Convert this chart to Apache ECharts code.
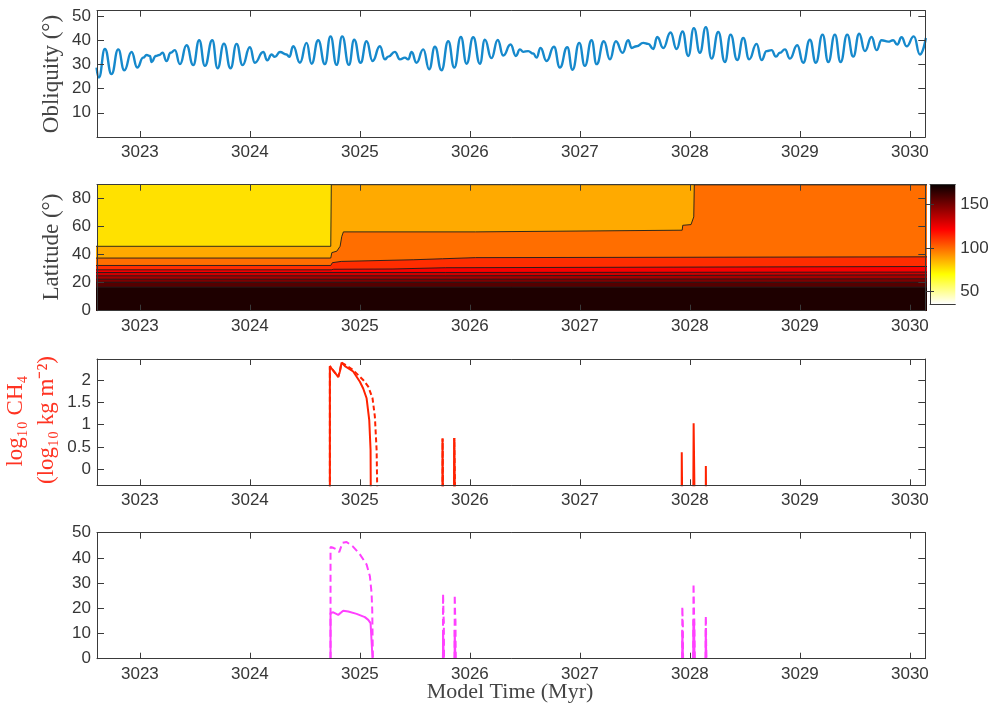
<!DOCTYPE html>
<html><head><meta charset="utf-8">
<script src="https://cdn.jsdelivr.net/npm/echarts@6/dist/echarts.min.js"></script>
<style>html,body{margin:0;padding:0;background:#fff}#c{width:991px;height:710px}</style>
</head><body><div id="c"></div>
<script>
// ---------------- DATA ----------------
const timeTicks = [3023, 3024, 3025, 3026, 3027, 3028, 3029, 3030];
const obliquityTicks = [10, 20, 30, 40, 50];
const latitudeTicks = [0, 20, 40, 60, 80];
const ch4Ticks = [0, 0.5, 1, 1.5, 2];
const iceTicks = [0, 10, 20, 30, 40, 50];
const colorbarTicks = [50, 100, 150];

// obliquity (deg) vs model time (Myr), read at the turning points
const obliquity = [
[3022.606,28.7],[3022.627,24.6],[3022.682,36.4],[3022.742,26.0],[3022.803,36.2],[3022.858,27.6],[3022.924,35.1],[3022.976,28.7],
[3023.030,32.8],[3023.061,33.9],[3023.091,33.5],[3023.106,31.0],[3023.145,33.5],[3023.176,33.9],[3023.206,34.8],[3023.242,31.4],
[3023.279,34.8],[3023.318,35.9],[3023.364,30.1],[3023.424,37.9],[3023.485,29.7],[3023.539,40.0],[3023.591,29.4],[3023.658,40.0],
[3023.706,28.4],[3023.764,38.6],[3023.824,28.4],[3023.879,38.5],[3023.933,29.7],[3024.000,37.1],[3024.045,30.7],[3024.121,35.1],
[3024.158,31.7],[3024.197,34.1],[3024.227,33.1],[3024.273,35.1],[3024.333,34.1],[3024.358,33.1],[3024.394,37.5],[3024.455,30.7],
[3024.515,38.9],[3024.561,30.3],[3024.621,40.0],[3024.682,30.1],[3024.733,41.6],[3024.788,29.8],[3024.839,41.6],[3024.900,29.8],
[3024.948,40.2],[3025.006,30.7],[3025.061,39.6],[3025.115,31.4],[3025.182,37.5],[3025.227,32.1],[3025.258,33.2],[3025.318,35.2],
[3025.364,32.1],[3025.409,32.8],[3025.439,32.1],[3025.470,35.1],[3025.515,30.7],[3025.576,36.2],[3025.630,28.0],[3025.682,37.3],
[3025.742,27.6],[3025.803,39.6],[3025.858,28.7],[3025.918,41.3],[3025.970,30.3],[3026.030,41.2],[3026.091,30.3],[3026.136,40.2],
[3026.196,32.6],[3026.253,40.1],[3026.303,33.7],[3026.370,38.2],[3026.418,33.5],[3026.455,36.2],[3026.485,35.2],[3026.530,35.5],
[3026.576,34.5],[3026.606,32.8],[3026.642,36.8],[3026.697,31.4],[3026.764,37.3],[3026.818,28.7],[3026.885,37.1],[3026.933,27.8],
[3026.994,38.9],[3027.045,29.4],[3027.106,40.0],[3027.152,30.1],[3027.218,39.6],[3027.273,32.1],[3027.327,39.6],[3027.388,34.8],
[3027.439,40.0],[3027.470,36.8],[3027.515,37.5],[3027.576,38.9],[3027.621,38.5],[3027.667,36.4],[3027.703,41.3],[3027.758,36.8],
[3027.824,43.2],[3027.879,36.4],[3027.933,43.6],[3027.985,33.5],[3028.036,45.0],[3028.091,34.8],[3028.145,45.4],[3028.197,32.4],
[3028.258,43.4],[3028.318,31.0],[3028.370,42.3],[3028.430,31.8],[3028.485,40.9],[3028.539,32.1],[3028.606,38.5],[3028.652,31.8],
[3028.697,35.5],[3028.742,35.9],[3028.782,33.2],[3028.818,34.8],[3028.864,36.2],[3028.909,32.4],[3028.976,37.9],[3029.030,30.7],
[3029.091,40.2],[3029.145,30.7],[3029.206,42.3],[3029.258,31.0],[3029.318,42.3],[3029.370,31.0],[3029.430,42.3],[3029.485,33.2],
[3029.539,42.7],[3029.591,35.5],[3029.652,41.3],[3029.697,35.9],[3029.742,40.0],[3029.803,39.4],[3029.848,40.0],[3029.885,38.2],
[3029.924,41.2],[3029.970,37.5],[3030.036,41.6],[3030.091,34.1],[3030.145,40.9]
];

// contour edges (latitude, deg) of the filled temperature contours, top band first
const edgeTop      = [[3022.5,90],[3030.3,90]];
const edgeYellow   = [[3022.5,46],[3024.735,46],[3024.74,90],[3030.3,90]];
const edgeLtOrange = [[3022.5,37.6],[3024.735,37.6],[3024.745,41.5],[3024.79,42.5],[3024.82,46],[3024.835,53],[3024.85,56.3],
                      [3026.05,56.3],[3026.06,57.5],[3027.93,57.5],[3027.935,61],[3028.01,61.5],[3028.035,67],[3028.04,90],[3030.3,90]];
const edgeOrange   = [[3022.5,32.3],[3024.735,32.3],[3024.75,34.3],[3024.83,35.2],[3024.84,36.4],[3025.49,36.4],[3025.5,37.1],
                      [3025.75,37.1],[3025.76,37.9],[3026.05,37.9],[3026.06,38.5],[3030.3,38.5]];
const edgeRed      = [[3022.5,29.2],[3024.74,29.2],[3024.76,29.6],[3025.3,29.8],[3025.31,30.7],[3025.78,30.7],[3025.79,31.6],[3030.3,31.6]];
const edgeRed2     = [[3022.5,27.3],[3025.78,27.3],[3025.79,27.6],[3030.3,27.6]];
const edgeRed3     = [[3022.5,24.9],[3025.78,24.9],[3025.79,25.6],[3030.3,25.6]];
const edgeRed4     = [[3022.5,22.5],[3025.78,22.5],[3025.79,22.8],[3030.3,22.8]];
const edgeDark     = [[3022.5,20.3],[3030.3,20.3]];
const edgeDarker   = [[3022.5,16.8],[3030.3,16.8]];
// temperature value of the band lying below each edge
const bandTemps = [76, 87, 99, 112, 124, 133, 141, 149, 157, 168];
const CB_MIN = 36, CB_MAX = 172;

// log10 CH4 (log10 kg m^-2); LOG_FLOOR marks "no CH4" (log10 -> -inf, below the axis)
const LOG_FLOOR = -1;
const ch4SolidEvents = [
  [[3024.727,LOG_FLOOR],[3024.727,2.31],[3024.742,2.26],[3024.803,2.07],[3024.818,2.19],[3024.833,2.39],[3024.864,2.31],
   [3024.939,2.19],[3025.0,1.96],[3025.03,1.81],[3025.061,1.59],[3025.085,1.10],[3025.097,0.43],[3025.1,LOG_FLOOR]],
  [[3025.750,LOG_FLOOR],[3025.751,0.69],[3025.755,0.69],[3025.756,LOG_FLOOR]],
  [[3025.855,LOG_FLOOR],[3025.857,0.70],[3025.862,0.69],[3025.865,LOG_FLOOR]],
  [[3027.925,LOG_FLOOR],[3027.926,0.38],[3027.929,0.36],[3027.931,LOG_FLOOR]],
  [[3028.030,LOG_FLOOR],[3028.034,1.03],[3028.038,1.02],[3028.044,LOG_FLOOR]],
  [[3028.144,LOG_FLOOR],[3028.145,0.07],[3028.147,0.07],[3028.148,LOG_FLOOR]]
];
const ch4DashedEvents = [
  [[3024.727,LOG_FLOOR],[3024.727,2.31],[3024.742,2.26],[3024.803,2.07],[3024.818,2.19],[3024.833,2.39],[3024.894,2.30],
   [3024.939,2.22],[3025.03,2.0],[3025.076,1.85],[3025.115,1.59],[3025.136,1.18],[3025.152,0.43],[3025.161,LOG_FLOOR]],
  [[3025.751,LOG_FLOOR],[3025.752,0.69],[3025.756,0.69],[3025.757,LOG_FLOOR]],
  [[3025.857,LOG_FLOOR],[3025.859,0.70],[3025.864,0.69],[3025.867,LOG_FLOOR]]
];

// bottom panel (magenta), solid and dashed
const iceSolidEvents = [
  [[3024.733,0],[3024.733,18.1],[3024.758,18.4],[3024.803,17.4],[3024.848,19.0],[3024.894,18.7],[3024.970,17.8],
   [3025.045,16.5],[3025.076,15.4],[3025.097,14.1],[3025.112,13.4],[3025.115,0]],
  [[3025.755,0],[3025.756,11.4],[3025.760,11.0],[3025.762,0]],
  [[3025.861,0],[3025.862,11.4],[3025.866,11.0],[3025.868,0]],
  [[3027.930,0],[3027.931,11.2],[3027.935,10.8],[3027.937,0]],
  [[3028.030,0],[3028.032,15.4],[3028.038,14.5],[3028.042,0]],
  [[3028.143,0],[3028.144,12.1],[3028.147,11.8],[3028.149,0]]
];
const iceDashedEvents = [
  [[3024.733,0],[3024.733,44.3],[3024.758,44.0],[3024.794,43.2],[3024.812,42.3],[3024.842,46.0],[3024.879,46.3],
   [3024.939,44.4],[3025.0,41.4],[3025.061,37.4],[3025.091,32.7],[3025.106,26.1],[3025.112,19.4],[3025.118,0]],
  [[3025.755,0],[3025.756,25.8],[3025.758,22],[3025.760,17],[3025.763,15],[3025.765,0]],
  [[3025.861,0],[3025.862,25.4],[3025.864,22],[3025.866,17],[3025.869,15],[3025.871,0]],
  [[3027.930,0],[3027.931,20.7],[3027.934,16],[3027.936,13.4],[3027.938,0]],
  [[3028.030,0],[3028.033,29.8],[3028.036,22.7],[3028.038,17],[3028.040,15.4],[3028.044,0]],
  [[3028.143,0],[3028.144,17.0],[3028.146,14.8],[3028.149,0]]
];

// ---------------- HELPERS ----------------
function joinEvents(events) {
  const out = [];
  events.forEach((ev, i) => { if (i) out.push([ev[0][0], '-']); ev.forEach(p => out.push(p)); });
  return out;
}
function clamp(v) { return Math.max(0, Math.min(1, v)); }
function hot(v) { // reversed MATLAB "hot": low = white, high = black
  const u = (CB_MAX - v) / (CB_MAX - CB_MIN);
  const r = clamp(0.04 + u / 0.375), g = clamp((u - 0.375) / 0.375), b = clamp((u - 0.75) / 0.25);
  return 'rgb(' + Math.round(r * 255) + ',' + Math.round(g * 255) + ',' + Math.round(b * 255) + ')';
}

const X_MIN = 3022.61, X_MAX = 3030.14;
const AX = '#3a3a3a';
const TICKFONT = { fontFamily: 'Liberation Sans, Arial, sans-serif', fontSize: 17, color: '#363636' };
const fmt = v => String(v);

function xPair(gi) {
  const base = { type: 'value', gridIndex: gi, min: X_MIN, max: X_MAX, z: 10,
    axisLine: { show: true, onZero: false, lineStyle: { color: AX, width: 1 } },
    axisTick: { show: true, inside: true, length: 6, customValues: timeTicks, lineStyle: { color: AX } },
    splitLine: { show: false } };
  return [
    Object.assign({}, base, { position: 'bottom', axisLabel: Object.assign({ show: true, customValues: timeTicks, margin: 7, formatter: fmt }, TICKFONT) }),
    Object.assign({}, base, { position: 'top', axisLabel: { show: false } })
  ];
}
function yPair(gi, min, max, ticks) {
  const base = { type: 'value', gridIndex: gi, min: min, max: max, z: 10,
    axisLine: { show: true, onZero: false, lineStyle: { color: AX, width: 1 } },
    axisTick: { show: true, inside: true, length: 7, customValues: ticks, lineStyle: { color: AX } },
    splitLine: { show: false } };
  return [
    Object.assign({}, base, { position: 'left', axisLabel: Object.assign({ show: true, customValues: ticks, margin: 6, formatter: fmt }, TICKFONT) }),
    Object.assign({}, base, { position: 'right', axisLabel: { show: false } })
  ];
}

const L = 97, W = 828.3;
const grids = [
  { left: L, top: 10.7, width: W, height: 126.3 },
  { left: L, top: 184.7, width: W, height: 126 },
  { left: L, top: 359, width: W, height: 126.3 },
  { left: L, top: 532.7, width: W, height: 126 },
  { left: 930, top: 184.7, width: 25.3, height: 119.3 }
].map(g => Object.assign({ containLabel: false, outerBoundsMode: 'none' }, g));

const xAxes = [].concat(xPair(0), xPair(1), xPair(2), xPair(3));
const yAxes = [].concat(yPair(0, 0, 52.2, obliquityTicks), yPair(1, 0, 90, latitudeTicks),
                        yPair(2, -0.36, 2.47, ch4Ticks), yPair(3, 0, 50, iceTicks));
// colorbar axes
xAxes.push({ type: 'value', gridIndex: 4, min: 0, max: 1, position: 'bottom', z: 10,
  axisLine: { show: true, lineStyle: { color: AX } }, axisTick: { show: false }, axisLabel: { show: false }, splitLine: { show: false } });
xAxes.push({ type: 'value', gridIndex: 4, min: 0, max: 1, position: 'top', z: 10,
  axisLine: { show: true, lineStyle: { color: AX } }, axisTick: { show: false }, axisLabel: { show: false }, splitLine: { show: false } });
yAxes.push({ type: 'value', gridIndex: 4, min: CB_MIN, max: CB_MAX, position: 'right', z: 10,
  axisLine: { show: true, lineStyle: { color: AX } },
  axisTick: { show: true, inside: true, length: 4, customValues: colorbarTicks, lineStyle: { color: AX } },
  axisLabel: Object.assign({ show: true, customValues: colorbarTicks, margin: 5, formatter: fmt }, TICKFONT),
  splitLine: { show: false } });
yAxes.push({ type: 'value', gridIndex: 4, min: CB_MIN, max: CB_MAX, position: 'left', z: 10,
  axisLine: { show: true, lineStyle: { color: AX } },
  axisTick: { show: true, inside: true, length: 4, customValues: colorbarTicks, lineStyle: { color: AX } },
  axisLabel: { show: false }, splitLine: { show: false } });

const series = [];
// panel 1
series.push({ type: 'line', xAxisIndex: 0, yAxisIndex: 0, data: obliquity, symbol: 'none', smooth: 0.5, smoothMonotone: 'x',
  lineStyle: { color: '#1689CC', width: 2.4 }, clip: true });
// panel 2: filled contours
const edges = [edgeTop, edgeYellow, edgeLtOrange, edgeOrange, edgeRed, edgeRed2, edgeRed3, edgeRed4, edgeDark, edgeDarker];
edges.forEach((e, i) => {
  series.push({ type: 'line', xAxisIndex: 2, yAxisIndex: 2, data: e, symbol: 'none', clip: true,
    lineStyle: { color: '#1c1c1c', width: i === 0 ? 0 : 0.9 },
    areaStyle: { color: hot(bandTemps[i]), opacity: 1, origin: 'start' } });
});
// colorbar
series.push({ type: 'custom', xAxisIndex: 8, yAxisIndex: 8, data: [[0, CB_MIN, 1, CB_MAX]],
  renderItem: (params, api) => {
    const p0 = api.coord([api.value(0), api.value(3)]);
    const p1 = api.coord([api.value(2), api.value(1)]);
    return { type: 'rect', shape: { x: p0[0], y: p0[1], width: p1[0] - p0[0], height: p1[1] - p0[1] },
      style: { fill: new echarts.graphic.LinearGradient(0, 0, 0, 1, [
        { offset: 0, color: hot(CB_MAX) }, { offset: 0.375, color: hot(CB_MAX - 0.375 * (CB_MAX - CB_MIN)) },
        { offset: 0.75, color: hot(CB_MAX - 0.75 * (CB_MAX - CB_MIN)) }, { offset: 1, color: hot(CB_MIN) }]) } };
  } });
// panel 3
series.push({ type: 'line', xAxisIndex: 4, yAxisIndex: 4, data: joinEvents(ch4SolidEvents), symbol: 'none', clip: true,
  connectNulls: false, lineStyle: { color: '#FF2200', width: 2 } });
series.push({ type: 'line', xAxisIndex: 4, yAxisIndex: 4, data: joinEvents(ch4DashedEvents), symbol: 'none', clip: true,
  connectNulls: false, lineStyle: { color: '#FF2200', width: 2, type: [5, 3] } });
// panel 4
series.push({ type: 'line', xAxisIndex: 6, yAxisIndex: 6, data: joinEvents(iceSolidEvents), symbol: 'none', clip: true,
  connectNulls: false, lineStyle: { color: '#FF40FF', width: 2 } });
series.push({ type: 'line', xAxisIndex: 6, yAxisIndex: 6, data: joinEvents(iceDashedEvents), symbol: 'none', clip: true,
  connectNulls: false, lineStyle: { color: '#FF40FF', width: 2, type: [7, 4] } });

const SERIF = '"Liberation Serif", "Times New Roman", serif';
function vText(x, y, text, color, size) {
  return { type: 'text', x: x, y: y, rotation: Math.PI / 2, z: 100,
    style: { text: text, font: size + 'px ' + SERIF, fill: color, align: 'center', verticalAlign: 'middle' } };
}
const graphics = [
  vText(52, 74, 'Obliquity (°)', '#444', 23),
  vText(52, 247, 'Latitude (°)', '#444', 23),
  vText(16, 421, 'log₁₀ CH₄', '#FF3322', 23),
  vText(47, 420, '(log₁₀ kg m⁻²)', '#FF3322', 23),
  { type: 'text', x: 510, y: 692, z: 100, style: { text: 'Model Time (Myr)', font: '22px ' + SERIF, fill: '#444', align: 'center', verticalAlign: 'middle' } }
];

const chart = echarts.init(document.getElementById('c'), null, { renderer: 'canvas' });
chart.setOption({
  animation: false,
  backgroundColor: '#fff',
  grid: grids,
  xAxis: xAxes,
  yAxis: yAxes,
  series: series,
  graphic: graphics
});
</script>
</body></html>
